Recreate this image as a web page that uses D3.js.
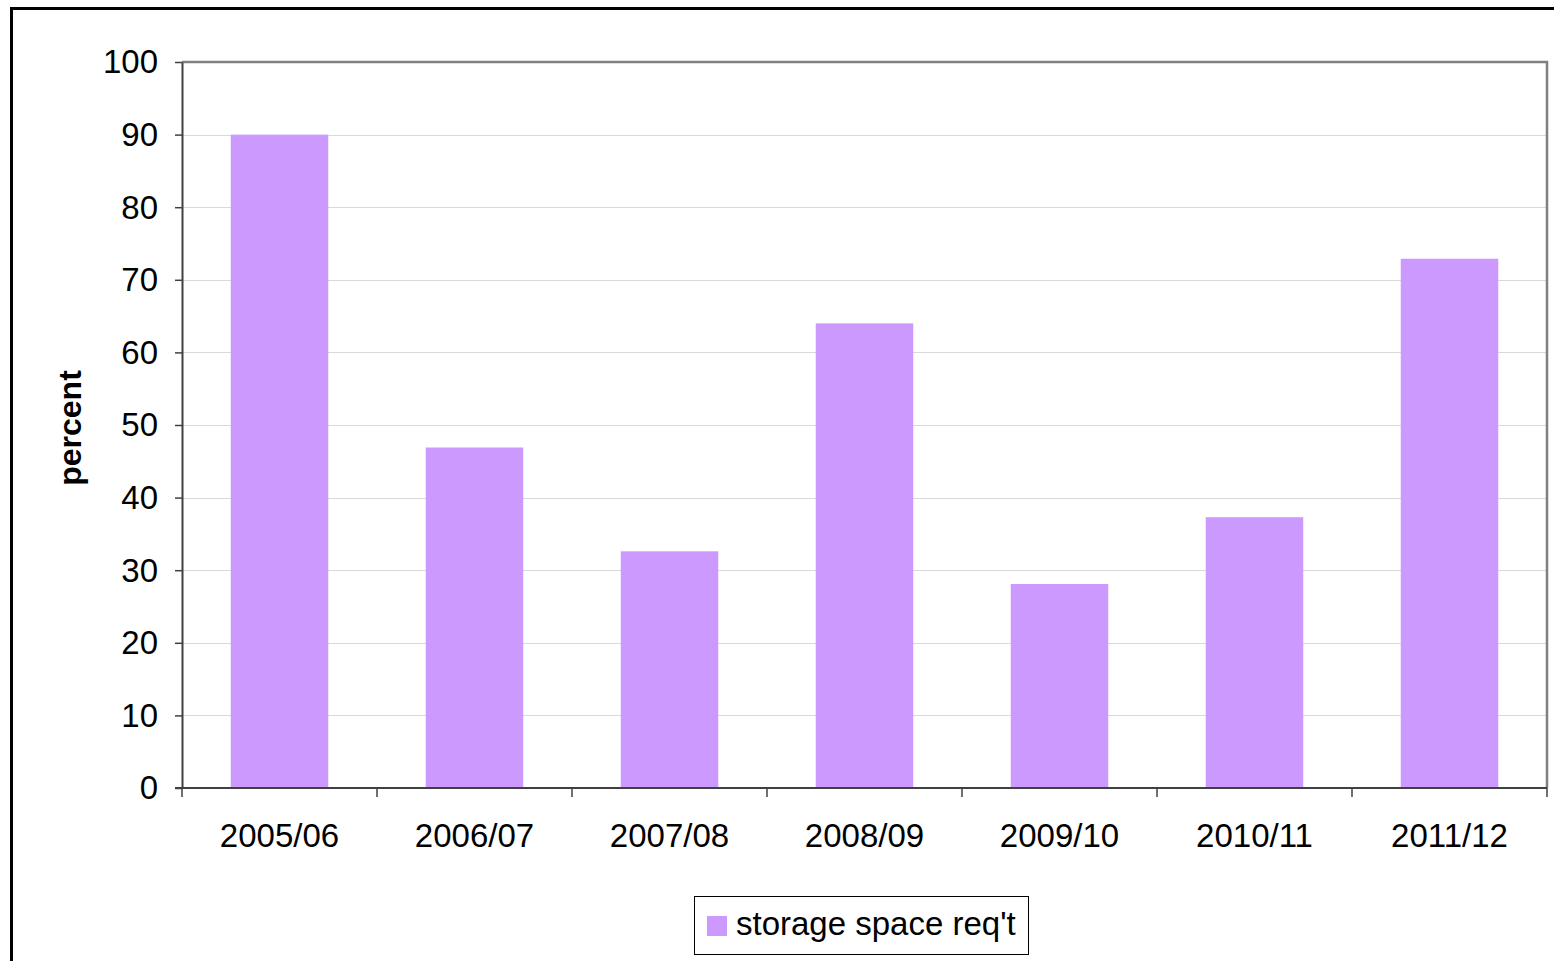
<!DOCTYPE html>
<html>
<head>
<meta charset="utf-8">
<script src="https://cdn.jsdelivr.net/npm/d3@7"></script>
<style>
  html, body { margin: 0; padding: 0; background: #fff; }
  svg { display: block; }
  text { font-family: "Liberation Sans", Arial, sans-serif; fill: #000; }
</style>
</head>
<body>
<svg id="chart" width="1554" height="961"></svg>
<script>
// Share of respondents citing storage space requirements, per year
const categories = ["2005/06", "2006/07", "2007/08", "2008/09", "2009/10", "2010/11", "2011/12"];
const values = [90, 46.9, 32.6, 64.0, 28.1, 37.3, 72.9];
const yTicks = [0, 10, 20, 30, 40, 50, 60, 70, 80, 90, 100];
const seriesName = "storage space req't";
const yLabel = "percent";

const svg = d3.select("#chart");
const plot = { left: 182, top: 62, right: 1547, bottom: 788 };
const barColor = "#cc99ff";

// Outer chart border (extends past the page edge on right and bottom)
svg.append("rect")
  .attr("x", 11.5).attr("y", 8.5)
  .attr("width", 1600).attr("height", 1000)
  .attr("fill", "#fff").attr("stroke", "#000").attr("stroke-width", 3);

const x = d3.scaleBand().domain(categories).range([plot.left, plot.right]).paddingInner(0.5).paddingOuter(0.25);
const y = d3.scaleLinear().domain([0, 100]).range([plot.bottom, plot.top]);

// Gridlines
svg.append("g").selectAll("line").data(yTicks.filter(d => d > 0 && d < 100)).join("line")
  .attr("x1", plot.left).attr("x2", plot.right)
  .attr("y1", d => Math.round(y(d)) + 0.5).attr("y2", d => Math.round(y(d)) + 0.5)
  .attr("stroke", "#d9d9d9").attr("stroke-width", 1);

// Plot frame top and right
svg.append("path")
  .attr("d", `M${plot.left},${plot.top} H${plot.right} V${plot.bottom}`)
  .attr("fill", "none").attr("stroke", "#808080").attr("stroke-width", 2.5);

// Bars
svg.append("g").selectAll("rect").data(values).join("rect")
  .attr("x", (d, i) => x(categories[i]))
  .attr("width", x.bandwidth())
  .attr("y", d => y(d))
  .attr("height", d => y(0) - y(d))
  .attr("fill", barColor);

// Y axis
const yAxis = svg.append("g")
  .attr("transform", `translate(${plot.left},0)`)
  .call(d3.axisLeft(y).tickValues(yTicks).tickSize(7).tickPadding(17).tickSizeOuter(0));
yAxis.select(".domain").attr("stroke", "#404040").attr("stroke-width", 2);
yAxis.selectAll(".tick line").attr("stroke", "#404040").attr("stroke-width", 1.5);
yAxis.selectAll(".tick text")
  .style("font-family", "'Liberation Sans', Arial, sans-serif")
  .style("font-size", "33px").attr("fill", "#000").attr("dy", "0.33em");

// X axis with ticks at band boundaries
const xAxisG = svg.append("g").attr("transform", `translate(0,${plot.bottom})`);
xAxisG.append("line")
  .attr("x1", plot.left - 7).attr("x2", plot.right)
  .attr("y1", 0).attr("y2", 0)
  .attr("stroke", "#404040").attr("stroke-width", 2);
const bounds = d3.range(categories.length + 1).map(i => plot.left + i * (plot.right - plot.left) / categories.length);
xAxisG.selectAll("line.tk").data(bounds).join("line").attr("class", "tk")
  .attr("x1", d => d).attr("x2", d => d).attr("y1", 0).attr("y2", 9)
  .attr("stroke", "#404040").attr("stroke-width", 1.5);
xAxisG.selectAll("text").data(categories).join("text")
  .attr("x", d => x(d) + x.bandwidth() / 2)
  .attr("y", 59)
  .attr("text-anchor", "middle")
  .style("font-size", "33px")
  .text(d => d);

// Y axis title
svg.append("text")
  .attr("transform", `translate(81,428) rotate(-90)`)
  .attr("text-anchor", "middle")
  .style("font-size", "32px").style("font-weight", "bold")
  .text(yLabel);

// Legend
const lg = svg.append("g");
lg.append("rect").attr("x", 694.5).attr("y", 896.5).attr("width", 334).attr("height", 58)
  .attr("fill", "#fff").attr("stroke", "#000").attr("stroke-width", 1);
lg.append("rect").attr("x", 707).attr("y", 916).attr("width", 20).attr("height", 20).attr("fill", barColor);
lg.append("text").attr("x", 736).attr("y", 935).style("font-size", "33px").text(seriesName);
</script>
</body>
</html>
